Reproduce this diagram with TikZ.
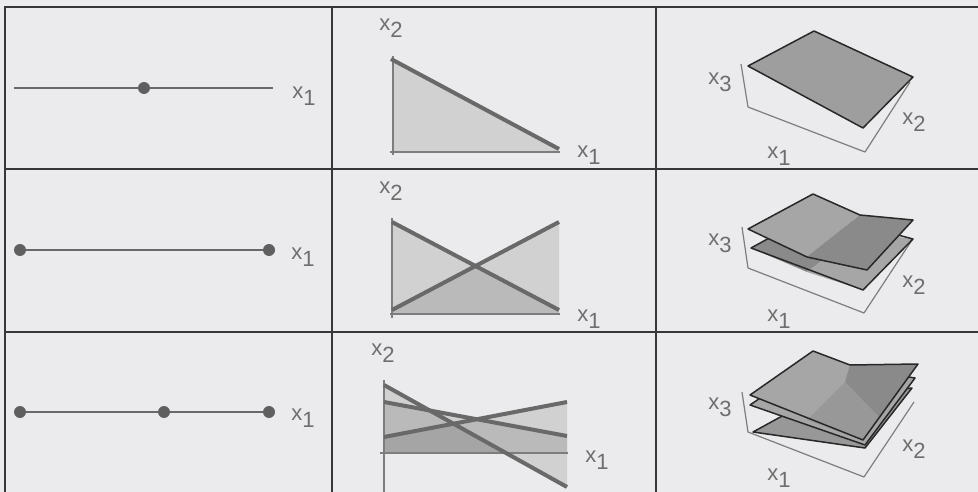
\documentclass[tikz,border=0pt]{standalone}
\usepackage{fontspec}
\setmainfont{Liberation Sans}
\definecolor{bg}{RGB}{235,235,237}
\definecolor{framec}{RGB}{55,55,55}
\definecolor{lnc}{RGB}{105,105,105}
\definecolor{dotc}{RGB}{95,95,95}
\definecolor{axc}{RGB}{125,125,125}
\definecolor{txtc}{RGB}{110,110,110}
\definecolor{plc}{RGB}{158,158,158}
\definecolor{pldc}{RGB}{138,138,138}
\definecolor{plmc}{RGB}{152,152,152}
\definecolor{pllc}{RGB}{166,166,166}
\definecolor{edgec}{RGB}{40,40,40}
\newcommand\xlab[1]{x\raisebox{-7pt}{#1}}
\begin{document}
\begin{tikzpicture}[x=1pt,y=-1pt,
 lbl/.style={font=\fontsize{22}{22}\selectfont, text=txtc, inner sep=0pt},
 gridline/.style={draw=framec, line width=2pt},
 seg/.style={draw=lnc, line width=2pt},
 dotn/.style={circle, fill=dotc, inner sep=0pt, minimum size=12pt},
 axis/.style={draw=axc, line width=2pt},
 cons/.style={draw=lnc, line width=4pt},
 reg/.style={fill=black, fill opacity=0.11},
 axthree/.style={draw=axc, line width=1.2pt, line join=round},
 plane/.style={draw=edgec, line width=1.5pt, line join=round},
]
\useasboundingbox (0,0) rectangle (978,492);
\fill[bg] (0,0) rectangle (978,492);
\clip (0,0) rectangle (978,492);

% grid
\draw[gridline] (5,7) rectangle (995,510);
\draw[gridline] (332,7) -- (332,510);
\draw[gridline] (656,7) -- (656,510);
\draw[gridline] (5,169) -- (995,169);
\draw[gridline] (5,332) -- (995,332);

% ---------- column 1 ----------
\coordinate (a1) at (14,88); \coordinate (b1) at (273,88);
\draw[seg] (a1) -- (b1);
\node[dotn] (d11) at (144,88) {};
\node[lbl] (l11) at (304,96) {\xlab{1}};

\coordinate (a2) at (20,250); \coordinate (b2) at (269,250);
\draw[seg] (a2) -- (b2);
\node[dotn] (d21) at (20,250) {};
\node[dotn] (d22) at (269,250) {};
\node[lbl] (l21) at (303,257) {\xlab{1}};

\coordinate (a3) at (20,412); \coordinate (b3) at (269,412);
\draw[seg] (a3) -- (b3);
\node[dotn] (d31) at (20,412) {};
\node[dotn] (d32) at (164,412) {};
\node[dotn] (d33) at (269,412) {};
\node[lbl] (l31) at (303,418) {\xlab{1}};

% ---------- column 2 ----------
% row 1
\fill[reg] (393,60) -- (559,151) -- (393,152) -- cycle;
\draw[axis] (393,56) -- (393,155);
\draw[axis] (390,152) -- (560,152);
\draw[cons] (391,59) -- (559,149);
\node[lbl] (l12a) at (391,28) {\xlab{2}};
\node[lbl] (l12b) at (589,155) {\xlab{1}};

% row 2
\fill[reg] (392,222) -- (559,311) -- (559,314) -- (392,314) -- cycle;
\fill[reg] (392,310) -- (559,222) -- (559,314) -- (392,314) -- cycle;
\draw[axis] (392,218) -- (392,318);
\draw[axis] (390,314) -- (560,314);
\draw[cons] (392,222) -- (559,310);
\draw[cons] (392,310) -- (559,222);
\node[lbl] (l22a) at (391,191) {\xlab{2}};
\node[lbl] (l22b) at (589,319) {\xlab{1}};

% row 3
\fill[reg] (384,385) -- (567,487) -- (567,453) -- (384,453) -- cycle;
\fill[reg] (384,402) -- (567,436) -- (567,453) -- (384,453) -- cycle;
\fill[reg] (384,437) -- (567,402) -- (567,453) -- (384,453) -- cycle;
\draw[axis] (384,380) -- (384,495);
\draw[axis] (380,453) -- (568,453);
\draw[cons] (384,385) -- (567,487);
\draw[cons] (384,402) -- (567,436);
\draw[cons] (384,437) -- (567,402);
\node[lbl] (l32a) at (383,353) {\xlab{2}};
\node[lbl] (l32b) at (597,460) {\xlab{1}};

% ---------- column 3 ----------
% row 1
\draw[axthree] (741,64) -- (748,107) -- (865,152) -- (910,82);
\filldraw[plane, fill=plc] (748,66) -- (814,31) -- (913,77) -- (863,128) -- cycle;
\node[lbl] (l13a) at (720,82) {\xlab{3}};
\node[lbl] (l13b) at (914,122) {\xlab{2}};
\node[lbl] (l13c) at (779,156) {\xlab{1}};

% row 2
\draw[axthree] (742,227) -- (748,268) -- (864,313) -- (912,240);
\fill[pldc] (751,248) -- (815,213) -- (860,232) -- (807,272) -- cycle;
\fill[pllc] (860,232) -- (913,239) -- (863,290) -- (807,272) -- cycle;
\draw[plane] (751,248) -- (815,213) -- (913,239) -- (863,290) -- cycle;
\fill[pllc] (748,229) -- (813,194) -- (860,215) -- (807,257) -- cycle;
\fill[pldc] (860,215) -- (913,220) -- (867,270) -- (807,257) -- cycle;
\draw[plane] (748,229) -- (813,194) -- (860,215) -- (913,220) -- (867,270) -- (807,257) -- cycle;
\node[lbl] (l23a) at (720,243) {\xlab{3}};
\node[lbl] (l23b) at (914,285) {\xlab{2}};
\node[lbl] (l23c) at (779,319) {\xlab{1}};

% row 3
\draw[axthree] (742,392) -- (748,432) -- (864,477) -- (914,402);
\filldraw[plane, fill=plmc] (753,432) -- (815,398) -- (912,388) -- (865,448) -- cycle;
\filldraw[plane, fill=pllc] (750,405) -- (813,362) -- (915,378) -- (865,445) -- cycle;
\fill[pllc] (750,395) -- (813,351) -- (850,365) -- (845,382) -- (807,420) -- cycle;
\fill[pldc] (850,365) -- (918,364) -- (879,417) -- (845,382) -- cycle;
\fill[plmc] (845,382) -- (879,417) -- (863,440) -- (807,420) -- cycle;
\draw[plane] (750,395) -- (813,351) -- (850,365) -- (918,364) -- (863,440) -- cycle;
\node[lbl] (l33a) at (720,407) {\xlab{3}};
\node[lbl] (l33b) at (914,449) {\xlab{2}};
\node[lbl] (l33c) at (779,478) {\xlab{1}};
\end{tikzpicture}
\end{document}
